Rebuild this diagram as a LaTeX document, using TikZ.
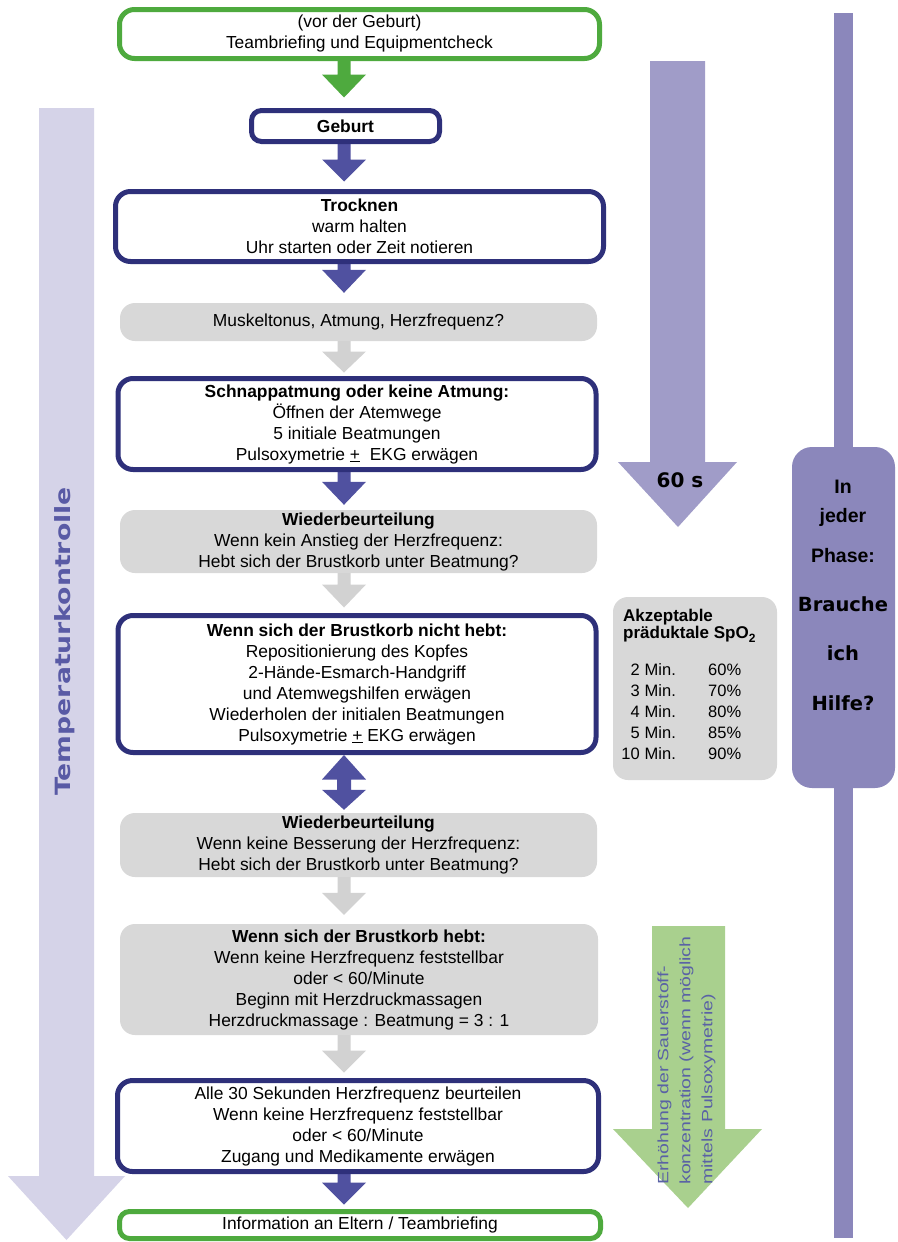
\documentclass[tikz,border=0pt]{standalone}
\usepackage{fontspec}
\usepackage{graphicx}
\setmainfont{Liberation Sans}
\newfontfamily\dejavu{DejaVu Sans}
\usetikzlibrary{calc}
\pgfdeclarelayer{background}
\pgfsetlayers{background,main}
\definecolor{navy}{RGB}{46,48,122}
\definecolor{flowblue}{RGB}{80,81,160}
\definecolor{flowgreen}{RGB}{78,170,62}
\definecolor{boxgray}{RGB}{216,216,216}
\definecolor{arrowgray}{RGB}{210,210,210}
\definecolor{lavender}{RGB}{213,211,232}
\definecolor{sixty}{RGB}{160,156,200}
\definecolor{panel}{RGB}{139,135,187}
\definecolor{oxygreen}{RGB}{169,208,142}
\definecolor{labelblue}{RGB}{89,90,165}
\definecolor{oxytext}{RGB}{90,98,165}
\newcommand{\mainfs}{\fontsize{17.4}{21}\selectfont}
\newcommand{\tablefs}{\fontsize{16.5}{21}\selectfont}
\def\ax{344pt}
\newcommand{\flowarrow}[5]{%
 \fill[#1] let \p1=(#2.south), \p2=(#3.north) in
  (\ax-6.5pt,\y1) -- (\ax+6.5pt,\y1) -- (\ax+6.5pt,\y2+#4pt+#5pt) -- (\ax+22pt,\y2+#4pt+#5pt)
  -- (\ax,\y2+#4pt) -- (\ax-22pt,\y2+#4pt+#5pt) -- (\ax-6.5pt,\y2+#4pt+#5pt) -- cycle;}
\tikzset{
 navybox/.style={draw=navy, line width=5pt, fill=white, rounded corners=15pt, align=center, inner sep=0pt, font=\mainfs},
 greenbox/.style={navybox, draw=flowgreen},
 graybox/.style={fill=boxgray, rounded corners=15pt, align=center, inner sep=0pt, font=\mainfs},
 sized/.style 2 args={minimum width=#1pt, minimum height=#2pt},
 txt/.style={inner sep=0pt},
 panelword/.style={txt, anchor=base, font={\bfseries\fontsize{19.5}{22}\selectfont}},
 heavyword/.style={txt, anchor=base, font={\dejavu\bfseries\fontsize{19.5}{22}\selectfont}},
}
\begin{document}
\begin{tikzpicture}[x=1pt,y=-1pt]
\useasboundingbox (0,0) rectangle (897,1242);

% main flow boxes
\node[greenbox, sized={480}{49}] (topbox) at (359.5,34) {(vor der Geburt)\\Teambriefing und Equipmentcheck};
\node[navybox, sized={188}{31}, rounded corners=10pt] (geburt) at (345.5,126) {\textbf{Geburt}};
\node[navybox, sized={488}{70}] (trock) at (359.5,226.5) {\textbf{Trocknen}\\warm halten\\Uhr starten oder Zeit notieren};
\node[graybox, sized={477}{38}] (musk) at (358.5,322) {Muskeltonus, Atmung, Herzfrequenz?};
\node[navybox, sized={478}{91}] (schnapp) at (357,424) {\textbf{Schnappatmung oder keine Atmung:}\\Öffnen der Atemwege\\5 initiale Beatmungen\\Pulsoxymetrie \underline{+}\ \ EKG erwägen};
\node[graybox, sized={477}{63}] (wieder1) at (358.5,541.5) {\textbf{Wiederbeurteilung}\\Wenn kein Anstieg der Herzfrequenz:\\Hebt sich der Brustkorb unter Beatmung?};
\node[navybox, sized={478}{137}] (nicht) at (357,684) {\textbf{Wenn sich der Brustkorb nicht hebt:}\\Repositionierung des Kopfes\\2-Hände-Esmarch-Handgriff\\und Atemwegshilfen erwägen\\Wiederholen der initialen Beatmungen\\Pulsoxymetrie \underline{+} EKG erwägen};
\node[graybox, sized={477}{64}] (wieder2) at (358.5,845) {\textbf{Wiederbeurteilung}\\Wenn keine Besserung der Herzfrequenz:\\Hebt sich der Brustkorb unter Beatmung?};
\node[graybox, sized={478}{111}] (hebt) at (359,979.5) {\textbf{Wenn sich der Brustkorb hebt:}\\Wenn keine Herzfrequenz feststellbar\\oder < 60/Minute\\Beginn mit Herzdruckmassagen\\Herzdruckmassage : Beatmung = 3 : 1};
\node[navybox, sized={481}{91}] (alle) at (358,1126) {Alle 30 Sekunden Herzfrequenz beurteilen\\Wenn keine Herzfrequenz feststellbar\\oder < 60/Minute\\Zugang und Medikamente erwägen};
\node[greenbox, sized={481}{27}, rounded corners=10pt] (info) at (360,1225) {Information an Eltern / Teambriefing};

% left label
\node[rotate=90, txt, text=labelblue, font={\dejavu\bfseries\fontsize{21}{21}\selectfont}] (templabel) at (64.5,641.5) {\scalebox{1.27}[1]{Temperaturkontrolle}};

% 60 s label
\node[txt, anchor=base, font={\dejavu\bfseries\fontsize{20}{22}\selectfont}] (sixtylabel) at (680,487) {60 s};

% right panel
\node[fill=panel, rounded corners=20pt, sized={103}{341}] (helpbox) at (843.5,617.5) {};
\node[panelword] (w1) at (843,493) {In};
\node[panelword] (w2) at (843,522) {jeder};
\node[panelword] (w3) at (843,562) {Phase:};
\node[heavyword] (w4) at (843,611) {Brauche};
\node[heavyword] (w5) at (843,660) {ich};
\node[heavyword] (w6) at (843,710) {Hilfe?};

% SpO2 box
\node[fill=boxgray, rounded corners=15pt, sized={164}{183}] (spo2box) at (695,688.5) {};
\node[txt, anchor=base west, font={\bfseries\fontsize{17}{16}\selectfont}] (akz) at (623,621.7) {Akzeptable};
\node[txt, anchor=base west, font={\bfseries\fontsize{17}{16}\selectfont}] (praed) at (623,638) {präduktale SpO\raisebox{-4pt}{\fontsize{12}{12}\selectfont 2}};
\foreach \n/\p/\yy in {2/60/675,3/70/696,4/80/717,5/85/738,10/90/759}{
  \node[txt, anchor=base east, font=\tablefs] (num\n) at (640,\yy) {\n};
  \node[txt, anchor=base west, font=\tablefs] (min\n) at (644.5,\yy) {Min.};
  \node[txt, anchor=base west, font=\tablefs] (pct\n) at (708,\yy) {\p\%};
}

% oxygen label
\node[rotate=90, txt, text=oxytext, font={\fontsize{15}{22}\selectfont}] (oxylabel) at (686,1060.5) {\scalebox{1.3}[1]{\begin{tabular}{@{}l@{}}Erhöhung der Sauerstoff-\\konzentration (wenn möglich\\mittels Pulsoxymetrie)\end{tabular}}};

\begin{pgfonlayer}{background}
 \fill[white] (0,0) rectangle (897,1242);
 % temperature arrow
 \fill[lavender] (39,108) -- (94,108) -- (94,1176) -- (125,1176) -- (66.5,1240) -- (8,1176) -- (39,1176) -- cycle;
 % 60 s arrow
 \fill[sixty] (650,61) -- (705,61) -- (705,462) -- (737,462) -- (678,527) -- (618,462) -- (650,462) -- cycle;
 % help bar
 \fill[panel] (834,13) rectangle (853,1238);
 % oxygen arrow
 \fill[oxygreen] (652,926) -- (725,926) -- (725,1129) -- (762,1129) -- (688,1208) -- (613,1129) -- (652,1129) -- cycle;
 % flow arrows
 \flowarrow{flowgreen}{topbox}{geburt}{10.5}{23}
 \flowarrow{flowblue}{geburt}{trock}{7.5}{22}
 \flowarrow{flowblue}{trock}{musk}{10}{23}
 \flowarrow{arrowgray}{musk}{schnapp}{3.5}{21}
 \flowarrow{flowblue}{schnapp}{wieder1}{5}{23}
 \flowarrow{arrowgray}{wieder1}{nicht}{5.5}{23}
 \flowarrow{arrowgray}{wieder2}{hebt}{9}{22}
 \flowarrow{arrowgray}{hebt}{alle}{5.5}{22}
 \flowarrow{flowblue}{alle}{info}{4.5}{22}
 % double arrow
 \fill[flowblue] let \p1=(nicht.south), \p2=(wieder2.north) in
   (\ax,\y1) -- (\ax+22pt,\y1-24.5pt) -- (\ax+7pt,\y1-24.5pt) -- (\ax+7pt,\y2+23pt)
   -- (\ax+22pt,\y2+23pt) -- (\ax,\y2+3pt) -- (\ax-22pt,\y2+23pt) -- (\ax-7pt,\y2+23pt)
   -- (\ax-7pt,\y1-24.5pt) -- (\ax-22pt,\y1-24.5pt) -- cycle;
\end{pgfonlayer}
\end{tikzpicture}
\end{document}
